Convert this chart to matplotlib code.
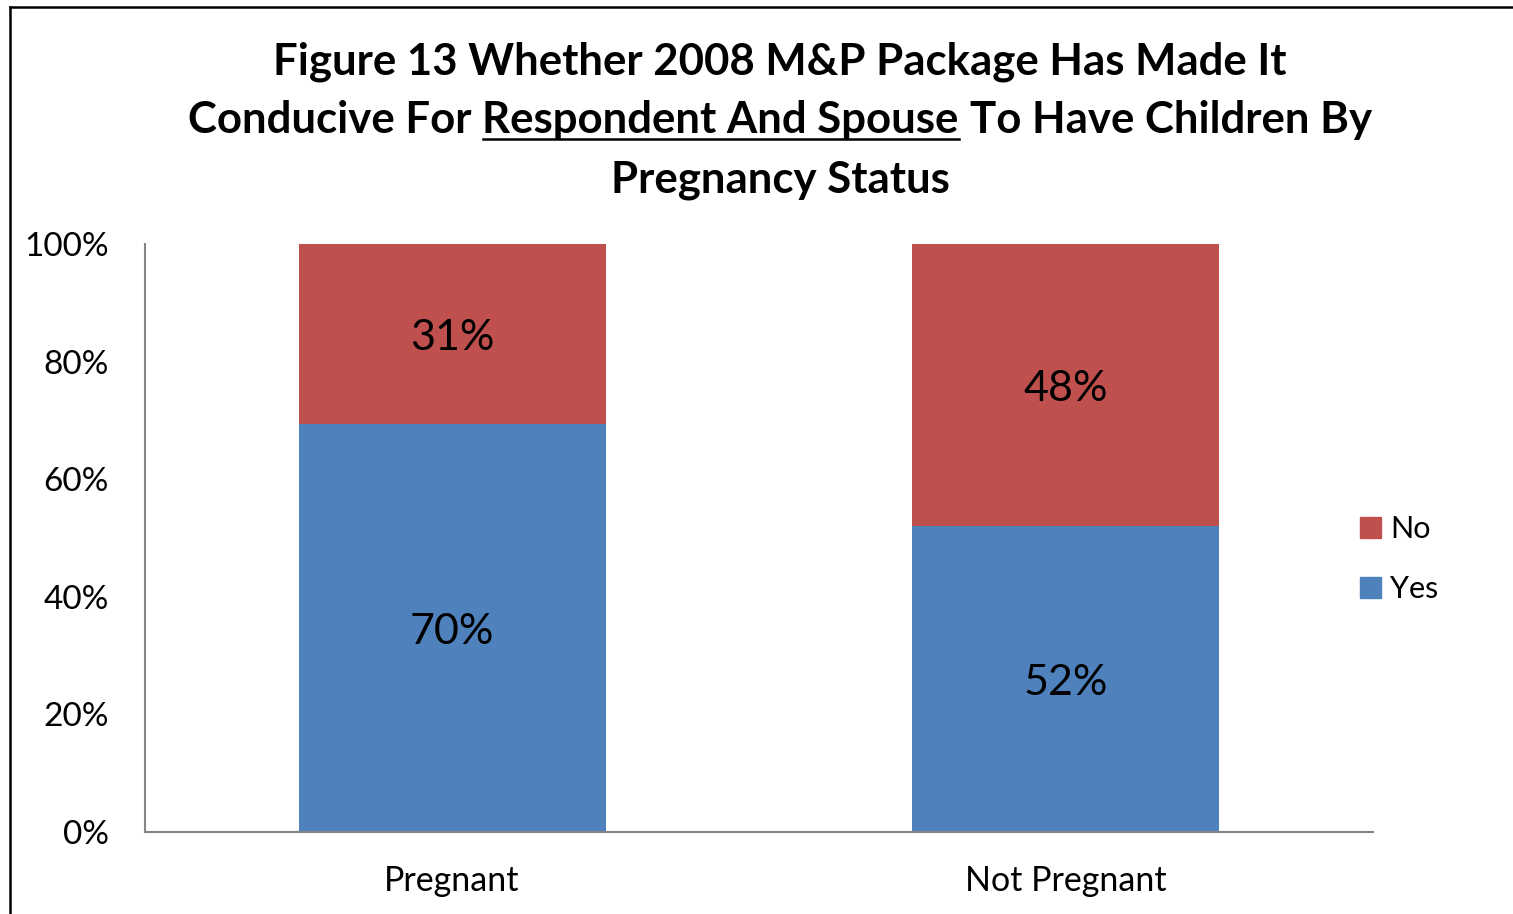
import matplotlib.pyplot as plt
from matplotlib.lines import Line2D
from matplotlib.patches import Patch
import numpy as np

plt.rcParams['font.family'] = ['Lato', 'DejaVu Sans']

categories = ['Pregnant', 'Not Pregnant']
yes_pct = [70, 52]
no_pct = [31, 48]
yticks = [0, 20, 40, 60, 80, 100]

RED = '#C0504D'
BLUE = '#4F81BD'
GREY = '#868686'

W, H, DPI = 1513, 914, 100
fig = plt.figure(figsize=(W / DPI, H / DPI), dpi=DPI)
ax = fig.add_axes([145 / W, 1 - 832 / H, (1373 - 145) / W, (832 - 244) / H])

# 100% stacked: shares are rescaled so each column fills the axis
yes = np.array(yes_pct, dtype=float)
no = np.array(no_pct, dtype=float)
total = yes + no
yes_share = yes / total * 100
no_share = no / total * 100

x = np.arange(len(categories))
ax.bar(x, yes_share, width=0.5, color=BLUE, label='Yes')
ax.bar(x, no_share, width=0.5, bottom=yes_share, color=RED, label='No')

lab_kw = dict(ha='center', va='center', fontsize=31, textcoords='offset points', xytext=(0, -3))
for i in range(len(x)):
    ax.annotate('%d%%' % yes_pct[i], (x[i], yes_share[i] / 2), **lab_kw)
    ax.annotate('%d%%' % no_pct[i], (x[i], yes_share[i] + no_share[i] / 2), **lab_kw)

ax.set_xlim(-0.5, 1.5)
ax.set_ylim(0, 100)
ax.set_yticks(yticks)
ax.set_yticklabels(['%d%%' % v for v in yticks], fontsize=24)
ax.set_xticks(x)
ax.set_xticklabels(categories, fontsize=24.5)
ax.tick_params(axis='y', length=0, pad=26)
ax.tick_params(axis='x', length=0, pad=24)
for s in ['top', 'right']:
    ax.spines[s].set_visible(False)
for s in ['left', 'bottom']:
    ax.spines[s].set_color(GREY)
    ax.spines[s].set_linewidth(1.5)

handles = [Patch(color=RED, label='No'), Patch(color=BLUE, label='Yes')]
fig.legend(handles=handles, loc='center left', bbox_to_anchor=(1332 / W, 1 - 559 / H),
           frameon=False, fontsize=22, handlelength=0.7, handleheight=0.7,
           handletextpad=0.3, labelspacing=1.05)

# title, three lines, part of the middle line underlined
title_kw = dict(fontsize=31.5, fontweight='bold', va='baseline', ha='left')
cx = 780
renderer = fig.canvas.get_renderer()

def width_of(s):
    t = fig.text(0, 0, s, transform=None, **title_kw)
    w = t.get_window_extent(renderer).width
    t.remove()
    return w

for line_y, s in [(74, 'Figure 13 Whether 2008 M&P Package Has Made It'),
                  (192, 'Pregnancy Status')]:
    fig.text(cx, H - line_y, s, transform=None, fontsize=31.5, fontweight='bold',
             ha='center', va='baseline')

parts = ['Conducive For', 'Respondent And Spouse', 'To Have Children By']
space = width_of('a a') - width_of('aa')
widths = [width_of(p) for p in parts]
total_w = sum(widths) + 2 * space
xpos = cx - total_w / 2
base = H - 133
for i, p in enumerate(parts):
    fig.text(xpos, base, p, transform=None, **title_kw)
    if i == 1:
        fig.add_artist(Line2D([xpos, xpos + widths[i]], [base - 6, base - 6],
                              transform=None, color='black', lw=1.8))
    xpos += widths[i] + space

# outer chart frame
fig.add_artist(Line2D([10, W], [H - 7, H - 7], transform=None, color='black', lw=1.8))
fig.add_artist(Line2D([10, 10], [0, H - 7], transform=None, color='black', lw=1.8))

fig.savefig('out.png', dpi=DPI)
